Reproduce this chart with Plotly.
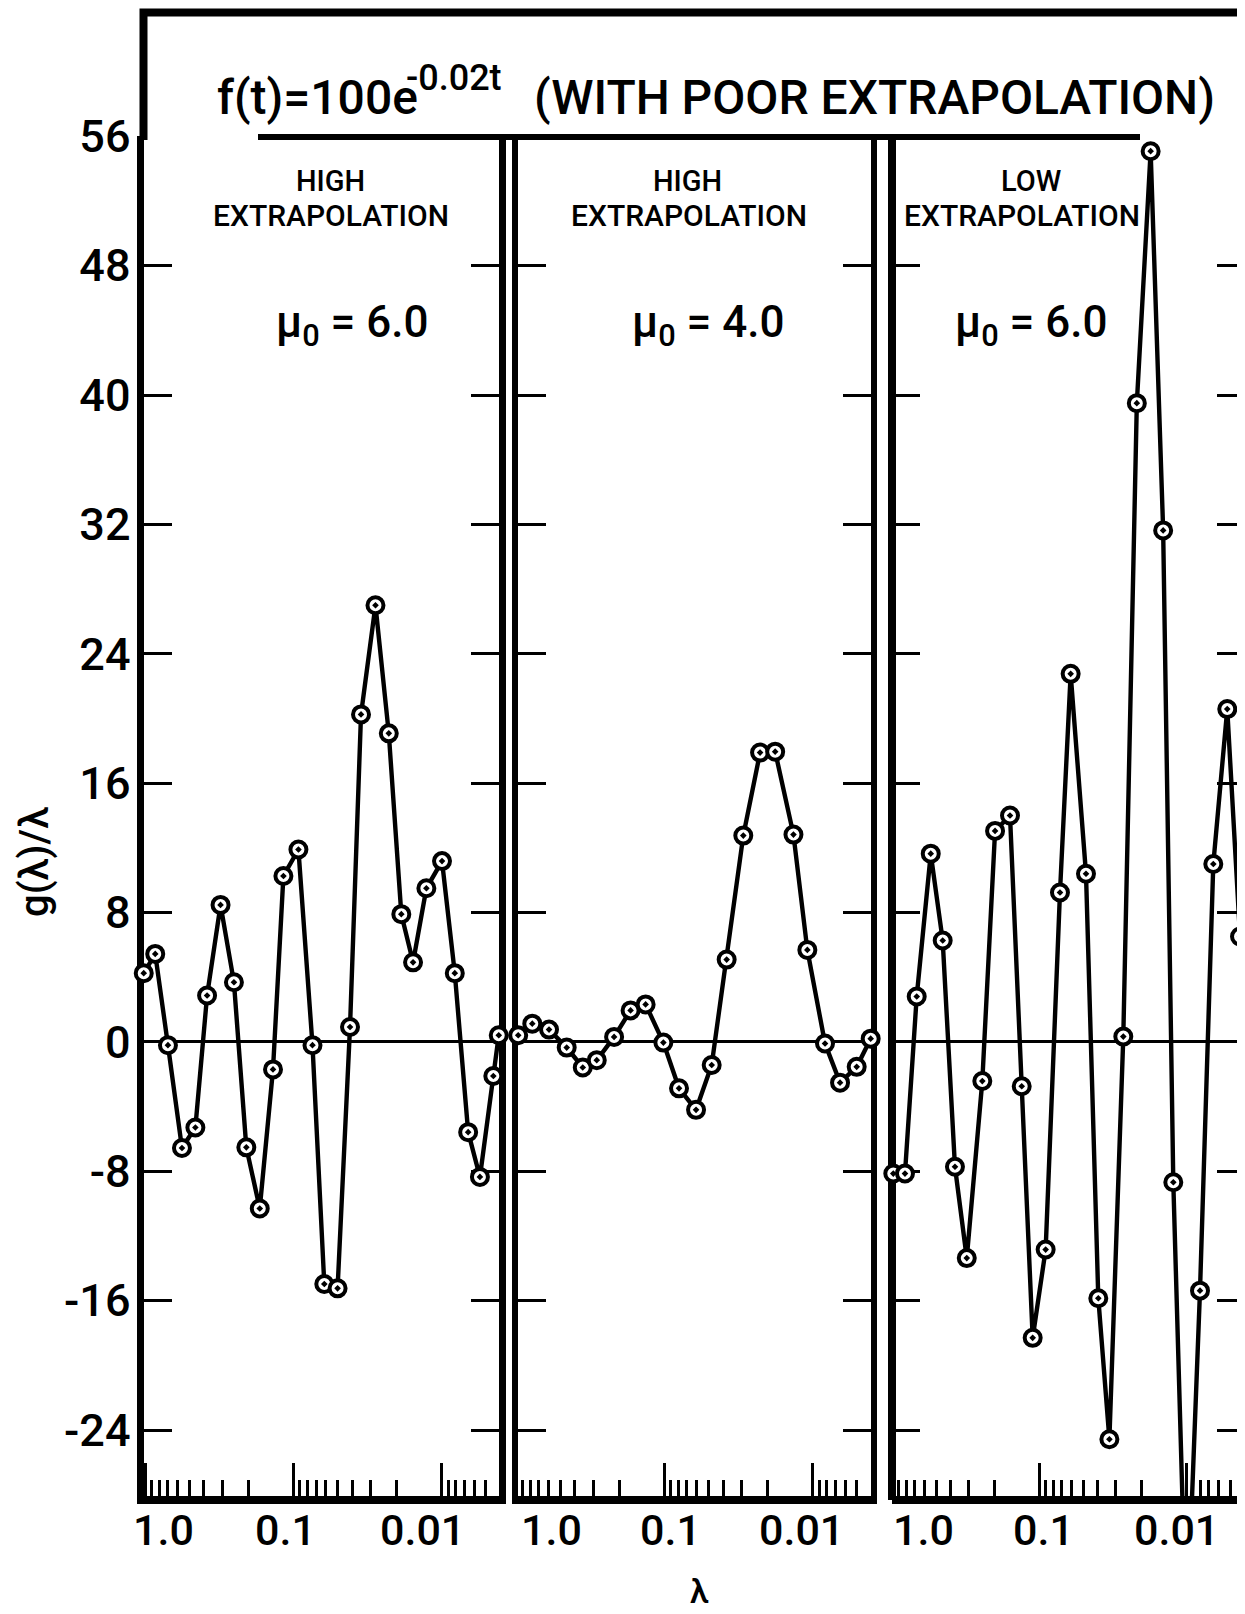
import math
import plotly.graph_objects as go

# ---------------- data ----------------
lam_p1 = [1.020, 0.853, 0.700, 0.563, 0.457, 0.381, 0.309, 0.251, 0.207, 0.168,
          0.1367, 0.1163, 0.0921, 0.0740, 0.0616, 0.0501, 0.0413, 0.0348, 0.0278,
          0.0226, 0.0186, 0.0155, 0.0126, 0.00988, 0.00810, 0.00658, 0.00548,
          0.00445, 0.00409]
g_p1 = [4.25, 5.44, -0.2, -6.56, -5.29, 2.87, 8.47, 3.69, -6.52, -10.3,
        -1.70, 10.26, 11.9, -0.2, -14.97, -15.24, 0.92, 20.25, 27.0,
        19.08, 7.90, 4.92, 9.50, 11.18, 4.25, -5.58, -8.35,
        -2.11, 0.41]

lam_p2 = [0.962, 0.773, 0.596, 0.453, 0.353, 0.284, 0.217, 0.168, 0.133, 0.101,
          0.0792, 0.0608, 0.0477, 0.0378, 0.0292, 0.0225, 0.0178, 0.0134, 0.0108,
          0.00821, 0.00650, 0.00502, 0.00404]
g_p2 = [0.41, 1.13, 0.76, -0.35, -1.58, -1.13, 0.31, 1.95, 2.32, -0.04,
        -2.87, -4.20, -1.43, 5.09, 12.76, 17.89, 17.95, 12.82, 5.69,
        -0.1, -2.52, -1.54, 0.2]

lam_p3 = [0.980, 0.816, 0.679, 0.545, 0.452, 0.373, 0.310, 0.243, 0.199, 0.1575,
          0.1311, 0.1104, 0.0901, 0.0720, 0.0609, 0.0479, 0.0395, 0.0332, 0.0267,
          0.0216, 0.0174, 0.0143, 0.0122, 0.00992, 0.00803, 0.00652, 0.00524,
          0.00429]
g_p3 = [-8.14, -8.14, 2.81, 11.64, 6.27, -7.72, -13.37, -2.42, 13.05, 14.0,
        -2.74, -18.3, -12.84, 9.24, 22.76, 10.4, -15.85, -24.57, 0.33,
        39.5, 55.08, 31.63, -8.68, -37.0, -15.38, 11.0, 20.58,
        6.52]

y_ticks = [56, 48, 40, 32, 24, 16, 8, 0, -8, -16, -24]
y_ticktext = ["56", "48", "40", "32", "24", "16", "8", "0", "-8", "-16", "-24"]

x_major = [1.0, 0.1, 0.01]
x_minor = [0.9, 0.8, 0.7, 0.6, 0.5, 0.4, 0.3, 0.2,
           0.09, 0.08, 0.07, 0.06, 0.05, 0.04, 0.03, 0.02,
           0.009, 0.008, 0.007, 0.006, 0.005]
x_ticktext = ["1.0", "0.1", "0.01"]
# where the hand-lettered labels sit under each panel (lambda units)
x_labelpos = [[0.749, 0.1121, 0.01335],
              [0.572, 0.0911, 0.01179],
              [0.612, 0.0935, 0.01157]]

panel_heads = [("HIGH", "EXTRAPOLATION", "μ<sub>0</sub> = 6.0"),
               ("HIGH", "EXTRAPOLATION", "μ<sub>0</sub> = 4.0"),
               ("LOW", "EXTRAPOLATION", "μ<sub>0</sub> = 6.0")]

# ---------------- layout geometry (page pixels) ----------------
PAGE_W, PAGE_H = 1245, 1614
OFF = 8                      # default body margin of the page
W, H = PAGE_W - OFF, PAGE_H - OFF
def px(x):
    return (x - OFF) / W
def py(y):
    return 1 - (y - OFF) / H

FONT = "Roboto"
BLACK = "#000000"

x_dom = [(143.5, 499.0), (518.0, 871.0), (892.0, 1245.0)]
x_rng = [(0.0102, -2.390), (-0.0155, -2.3958), (0.0, -2.4014)]
y_top_px, y_bot_px = 136.0, 1496.0
y_rng = [-28.08, 56.02]

fig = go.Figure()

datasets = [(lam_p1, g_p1), (lam_p2, g_p2), (lam_p3, g_p3)]
for i, (lx, gy) in enumerate(datasets):
    sfx = "" if i == 0 else str(i + 1)
    fig.add_trace(go.Scatter(
        x=lx, y=gy, mode="lines+markers",
        xaxis="x" + sfx, yaxis="y" + sfx,
        line=dict(color=BLACK, width=4.4),
        marker=dict(symbol="circle-dot", size=16, color="white",
                    line=dict(color=BLACK, width=4)),
        cliponaxis=False, showlegend=False, hoverinfo="skip"))

layout = dict(
    width=W, height=H, margin=dict(l=0, r=0, t=0, b=0, autoexpand=False),
    paper_bgcolor="white", plot_bgcolor="rgba(0,0,0,0)", showlegend=False,
    font=dict(family=FONT, color=BLACK),
)

for i in range(3):
    sfx = "" if i == 0 else str(i + 1)
    d0, d1 = x_dom[i]
    layout["xaxis" + sfx] = dict(
        type="log", domain=[px(d0), min(1.0, px(d1))], range=list(x_rng[i]),
        anchor="y" + sfx, showgrid=False, zeroline=False, automargin=False,
        showline=True, linecolor=BLACK, linewidth=8, layer="below traces",
        ticks="inside", ticklen=33, tickwidth=3, tickcolor=BLACK,
        tickmode="array", tickvals=x_major, showticklabels=False,
        minor=dict(tickmode="array", tickvals=x_minor, ticks="inside",
                   ticklen=16, tickwidth=2.5, tickcolor=BLACK, showgrid=False),
    )
    layout["yaxis" + sfx] = dict(
        domain=[py(y_bot_px), py(y_top_px)], range=y_rng,
        anchor="x" + sfx, showgrid=False, automargin=False,
        zeroline=True, zerolinecolor=BLACK, zerolinewidth=2.5,
        showline=(i < 2), linecolor=BLACK, linewidth=7 if i == 0 else 6,
        mirror="ticks", layer="below traces",
        ticks="inside", ticklen=28, tickwidth=3, tickcolor=BLACK,
        tickmode="array", tickvals=y_ticks, ticktext=y_ticktext,
        showticklabels=(i == 0),
        tickfont=dict(family=FONT, size=45, color=BLACK, weight=500),
        ticklabelstandoff=-3,
    )

shapes = [
    # outer frame: left edge above panels and top edge
    dict(type="path", xref="paper", yref="paper",
         path=f"M {px(143.5)} {py(140)} L {px(143.5)} {py(12.5)} L {px(1250)} {py(12.5)}",
         line=dict(color=BLACK, width=8)),
    # underline of the heading, closing the tops of the panels
    dict(type="line", xref="paper", yref="paper",
         x0=px(258), x1=px(1140), y0=py(137), y1=py(137),
         line=dict(color=BLACK, width=6)),
    # left border of the third panel (kept under the data)
    dict(type="line", xref="paper", yref="paper", layer="below",
         x0=px(892), x1=px(892), y0=py(136), y1=py(1500),
         line=dict(color=BLACK, width=8)),
]
layout["shapes"] = shapes

ann = []
def add_text(text, x, y, size, weight=500, angle=0, yanchor="middle"):
    ann.append(dict(text=text, x=px(x), y=py(y), xref="paper", yref="paper",
                    xanchor="center", yanchor=yanchor, showarrow=False,
                    textangle=angle,
                    font=dict(family=FONT, size=size, color=BLACK, weight=weight)))

# x tick labels, placed on each panel's log axis
for i in range(3):
    sfx = "" if i == 0 else str(i + 1)
    for val, txt in zip(x_labelpos[i], x_ticktext):
        ann.append(dict(text=txt, x=math.log10(val), y=py(1530),
                        xref="x" + sfx, yref="paper",
                        xanchor="center", yanchor="middle", showarrow=False,
                        font=dict(family=FONT, size=43, color=BLACK, weight=500)))

# heading
add_text("f(t)=100e", 317, 97, 48)
add_text("-0.02t", 454, 78, 36)
add_text("(WITH POOR EXTRAPOLATION)", 874, 97, 48)

head_x = [(330, 331, 352), (687, 689, 708), (1031, 1022, 1031)]
for (l1, l2, mu), (hx1, hx2, mx) in zip(panel_heads, head_x):
    add_text(l1, hx1, 181, 29)
    add_text(l2, hx2, 216, 30)
    add_text(mu, mx, 325, 44)

# axis titles
add_text("g(λ)/λ", 34, 862, 40, angle=-90)
add_text("λ", 699, 1613, 34, yanchor="bottom")

layout["annotations"] = ann
fig.update_layout(**layout)

fig.write_html("out.html")
